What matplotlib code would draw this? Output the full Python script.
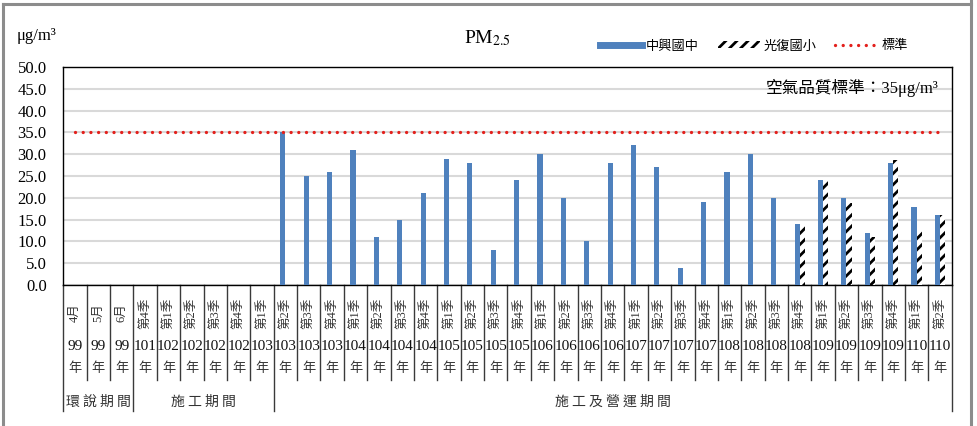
import numpy as np
import matplotlib.pyplot as plt
import matplotlib.transforms as mtransforms
from matplotlib.lines import Line2D
from matplotlib.patches import Patch

# 資料
quarters = ['4月', '5月', '6月', '第4季',
            '第1季', '第2季', '第3季', '第4季',
            '第1季', '第2季', '第3季', '第4季',
            '第1季', '第2季', '第3季', '第4季',
            '第1季', '第2季', '第3季', '第4季',
            '第1季', '第2季', '第3季', '第4季',
            '第1季', '第2季', '第3季', '第4季',
            '第1季', '第2季', '第3季', '第4季',
            '第1季', '第2季', '第3季', '第4季',
            '第1季', '第2季']
years = ['99', '99', '99', '101',
         '102', '102', '102', '102',
         '103', '103', '103', '103',
         '104', '104', '104', '104',
         '105', '105', '105', '105',
         '106', '106', '106', '106',
         '107', '107', '107', '107',
         '108', '108', '108', '108',
         '109', '109', '109', '109',
         '110', '110']
nan = np.nan
zhongxing = [nan] * 9 + [35, 25, 26, 31, 11, 15, 21, 29, 28, 8, 24, 30, 20, 10, 28,
                         32, 27, 4, 19, 26, 30, 20, 14, 24, 20, 12, 28, 18, 16]
guangfu = [nan] * 31 + [13.8, 24, 18.9, 11.1, 28.7, 12.6, 16]
standard = [35] * len(quarters)
periods = ['環 說 期 間', '施 工 期 間', '施 工 及 營 運 期 間']
period_first = [0, 3, 9]
period_last = [2, 8, 37]

serif = ['Liberation Serif', 'Noto Sans CJK TC']
cjk = ['Noto Sans CJK TC', 'Liberation Serif']
plt.rcParams['font.family'] = serif
plt.rcParams['mathtext.fontset'] = 'stix'
plt.rcParams['hatch.linewidth'] = 2.0

W, H = 978, 426
fig = plt.figure(figsize=(W / 100, H / 100), dpi=100)
L, R, T, B = 63.3, 951.7, 67, 285
ax = fig.add_axes([L / W, 1 - B / H, (R - L) / W, (B - T) / H])

x = np.arange(len(quarters))
w = 0.22
ax.bar(x - w / 2, zhongxing, width=w, color='#4F81BD', zorder=3)
ax.bar(x + w / 2, guangfu, width=w, facecolor='white', edgecolor='black',
       hatch='///', linewidth=0, zorder=3)
ax.plot(x, standard, color='#E3201C', lw=2.4, linestyle=(0, (0.01, 2.3)),
        dash_capstyle='round', zorder=4)

ax.set_xlim(-0.5, len(quarters) - 0.5)
ax.set_ylim(0, 50)
ax.set_yticks(np.arange(0, 50.1, 5))
ax.set_yticklabels(['%.1f' % v for v in np.arange(0, 50.1, 5)], fontsize=12,
                   family='Liberation Serif')
ax.tick_params(axis='y', length=0, pad=12)
ax.set_xticks([])
ax.grid(axis='y', color='#D9D9D9', lw=1.5, zorder=0)
ax.set_axisbelow(True)
for s in ax.spines.values():
    s.set_color('black')
    s.set_linewidth(1.0)

# 類別表格
tr = mtransforms.blended_transform_factory(ax.transData, ax.transAxes)
group_edges = [f - 0.5 for f in period_first] + [period_last[-1] + 0.5]
for i in range(len(quarters) + 1):
    e = i - 0.5
    y_end = -0.578 if e in group_edges else -0.436
    ax.add_line(Line2D([e, e], [0, y_end], transform=tr, color='#3A3A3A',
                       lw=1.0, clip_on=False))
for i, (q, yr) in enumerate(zip(quarters, years)):
    ax.text(i, -0.128, q, transform=tr, rotation=90, ha='center', va='center',
            fontsize=9, family=serif, color='#333333')
    ax.text(i, -0.284, yr, transform=tr, ha='center', va='center',
            fontsize=11, family='Liberation Serif', color='#111111')
    ax.text(i, -0.381, '年', transform=tr, ha='center', va='center',
            fontsize=9.5, family=cjk, color='#333333')
for p, a, b in zip(periods, period_first, period_last):
    ax.text((a + b) / 2, -0.537, p, transform=tr, ha='center', va='center',
            fontsize=10, family=cjk, color='#333333')

# 標題與單位
fig.text(487 / W, 1 - 38 / H, r'PM$_{2.5}$', ha='center', va='center',
         fontsize=14, family='Liberation Serif')
fig.text(17 / W, 1 - 36 / H, 'μg/m³', ha='left', va='center',
         fontsize=12, family='Liberation Serif')
ax.text(0.985, 0.905, '空氣品質標準：35μg/m³', transform=ax.transAxes,
        ha='right', va='center', fontsize=12, family=serif)

# 圖例
handles = [Line2D([], [], color='#4F81BD', lw=5),
           Patch(facecolor='white', edgecolor='black', hatch='///', lw=0),
           Line2D([], [], color='#E3201C', lw=2.4, linestyle=(0, (0.01, 2.3)),
                  dash_capstyle='round')]
fig.legend(handles, ['中興國中', '光復國小', '標準'], loc='center right',
           bbox_to_anchor=(908 / W, 1 - 46 / H), ncol=3, frameon=False,
           prop={'family': cjk, 'size': 9.5}, handlelength=3.2,
           handleheight=0.45, handletextpad=0.3, columnspacing=1.4,
           borderpad=0, borderaxespad=0)

# 外框
for xs, ys in [([3, 3], [4, H]), ([3, 971], [4, 4]), ([971, 971], [0, H])]:
    fig.add_artist(Line2D([v / W for v in xs], [1 - v / H for v in ys],
                          transform=fig.transFigure, color='#8C8C8C', lw=2.2))

fig.savefig('out.png', dpi=100)
